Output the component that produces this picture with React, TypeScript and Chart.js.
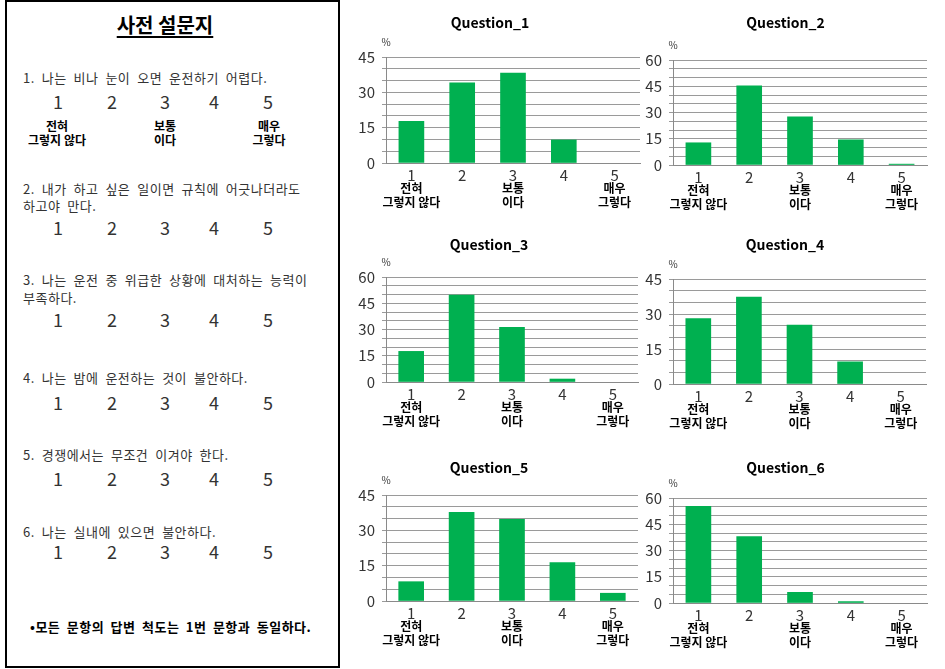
import React, { useEffect, useRef } from 'react';
import { Chart, registerables } from 'chart.js';

Chart.register(...registerables);

const FONT = '"Noto Sans CJK KR", "Noto Sans", sans-serif';

// ---------- data ----------
const CATEGORIES = ['1', '2', '3', '4', '5'];
const SCALE_LABELS: (string | string[])[] = [['전혀', '그렇지 않다'], '', ['보통', '이다'], '', ['매우', '그렇다']];
const TITLES = ['Question_1', 'Question_2', 'Question_3', 'Question_4', 'Question_5', 'Question_6'];
const Q1 = [17.7, 34.0, 38.2, 9.8, 0];
const Q2 = [12.7, 45.3, 27.5, 14.4, 0.5];
const Q3 = [17.5, 49.7, 31.2, 1.7, 0];
const Q4 = [28.0, 37.3, 25.3, 9.5, 0];
const Q5 = [8.2, 37.6, 34.7, 16.3, 3.3];
const Q6 = [55.3, 37.9, 6.1, 0.8, 0];
const GRID_45 = [0, 5, 10, 15, 20, 25, 30, 35, 40, 45];
const GRID_60 = [0, 5, 10, 15, 20, 25, 30, 35, 40, 45, 50, 55, 60];
const LABELED_TICKS = [0, 15, 30, 45, 60];

const SURVEY_TITLE = '사전 설문지';
const QUESTION_LINES = [
  ['1. 나는 비나 눈이 오면 운전하기 어렵다.'],
  ['2. 내가 하고 싶은 일이면 규칙에 어긋나더라도', '하고야 만다.'],
  ['3. 나는 운전 중 위급한 상황에 대처하는 능력이', '부족하다.'],
  ['4. 나는 밤에 운전하는 것이 불안하다.'],
  ['5. 경쟁에서는 무조건 이겨야 한다.'],
  ['6. 나는 실내에 있으면 불안하다.'],
];
const SCALE_WORDS = [['전혀', '그렇지 않다'], ['보통', '이다'], ['매우', '그렇다']];
const FOOTNOTE = '•모든 문항의 답변 척도는 1번 문항과 동일하다.';

// ---------- layout ----------
const Q_TEXT_Y = [[78], [189, 206], [280, 298], [378], [455], [532]];
const Q_NUM_Y = [101, 227, 319, 402, 478, 551];
const NUM_X = [58, 112, 165, 214, 268];
const SCALE_X = [57, 165, 269];

type Box = { left: number; top: number; w: number; h: number; plotLeft: number; plotRight: number; plotTop: number; plotBottom: number; titleY: number };

const BOXES: Box[] = [
  { left: 340, top: 0, w: 304, h: 222, plotLeft: 386, plotRight: 640, plotTop: 57, plotBottom: 163, titleY: 23 },
  { left: 644, top: 0, w: 301, h: 222, plotLeft: 673, plotRight: 927, plotTop: 60, plotBottom: 165, titleY: 23 },
  { left: 340, top: 222, w: 304, h: 224, plotLeft: 386, plotRight: 638, plotTop: 277, plotBottom: 382, titleY: 245 },
  { left: 644, top: 222, w: 301, h: 224, plotLeft: 673, plotRight: 926, plotTop: 279, plotBottom: 384, titleY: 245 },
  { left: 340, top: 446, w: 304, h: 223, plotLeft: 386, plotRight: 638, plotTop: 495, plotBottom: 601, titleY: 468 },
  { left: 644, top: 446, w: 301, h: 223, plotLeft: 673, plotRight: 927, plotTop: 498, plotBottom: 603, titleY: 468 },
];

const percentPlugin = {
  id: 'percentLabel',
  afterDraw(chart: any) {
    const { ctx, chartArea } = chart;
    ctx.save();
    ctx.font = `10px ${FONT}`;
    ctx.fillStyle = '#333';
    ctx.textAlign = 'center';
    ctx.textBaseline = 'middle';
    ctx.fillText('%', chartArea.left, chartArea.top - 15);
    ctx.restore();
  },
};

function BarChart({ title, values, grid, box }: { title: string; values: number[]; grid: number[]; box: Box }) {
  const ref = useRef<HTMLCanvasElement>(null);
  useEffect(() => {
    const titleLH = 16.8;
    const relTitle = box.titleY - box.top;
    const relPlotTop = box.plotTop - box.top;
    const relPlotBottom = box.plotBottom - box.top;
    const padTop = relTitle - titleLH / 2;
    const padBottom = relPlotTop - padTop - titleLH;
    const X1H = 18;
    const X2H = 34;
    const yWidth = box.plotLeft - box.left;
    const chart = new Chart(ref.current as HTMLCanvasElement, {
      type: 'bar',
      data: {
        labels: CATEGORIES,
        datasets: [
          {
            data: values,
            backgroundColor: (c: any) => (c.raw === 0 ? 'rgba(0,0,0,0)' : '#00B050'),
            barThickness: 25,
            xAxisID: 'x',
            yAxisID: 'y',
          },
        ],
      },
      options: {
        responsive: false,
        maintainAspectRatio: false,
        animation: false,
        layout: {
          padding: { left: 0, top: 0, right: box.left + box.w - box.plotRight, bottom: box.h - relPlotBottom - X1H - X2H },
        },
        plugins: {
          legend: { display: false },
          tooltip: { enabled: false },
          title: {
            display: true,
            text: title,
            color: '#000',
            font: { family: FONT, size: 14, weight: 'bold', lineHeight: 1.2 },
            padding: { top: padTop, bottom: padBottom },
          },
        },
        scales: {
          x: {
            type: 'category',
            position: 'bottom',
            offset: true,
            weight: 0,
            grid: { drawOnChartArea: false, drawTicks: false, color: 'rgba(0,0,0,0)' },
            border: { display: true, color: '#8a8a8a', width: 1 },
            ticks: { autoSkip: false, maxRotation: 0, padding: 3, color: '#333', font: { family: FONT, size: 15 } },
            afterFit: (s: any) => { s.height = X1H; },
          },
          x2: {
            type: 'category',
            position: 'bottom',
            labels: SCALE_LABELS as any,
            offset: true,
            weight: 1,
            grid: { display: false, drawTicks: false },
            border: { display: false },
            ticks: { autoSkip: false, maxRotation: 0, padding: 0, color: '#000', font: { family: FONT, size: 12, weight: 'bold', lineHeight: 1.17 } },
            afterFit: (s: any) => { s.height = X2H; },
          },
          y: {
            type: 'linear',
            position: 'left',
            min: 0,
            max: grid[grid.length - 1],
            afterBuildTicks: (s: any) => { s.ticks = grid.map((v) => ({ value: v })); },
            grid: { color: '#9a9a9a', lineWidth: 1, tickLength: 4, drawTicks: true },
            border: { display: true, color: '#8a8a8a', width: 1 },
            ticks: {
              autoSkip: false,
              padding: 7,
              color: '#333',
              font: { family: FONT, size: 15 },
              callback: (v: any) => (LABELED_TICKS.includes(Number(v)) ? String(v) : ''),
            },
            afterFit: (s: any) => { s.width = yWidth; },
          },
        },
      } as any,
      plugins: [percentPlugin],
    });
    return () => chart.destroy();
  }, []);
  return (
    <canvas
      ref={ref}
      width={box.w}
      height={box.h}
      style={{ position: 'absolute', left: box.left, top: box.top, width: box.w, height: box.h }}
    />
  );
}

function Text({ x, y, text, size, bold, center, color, lh, spacing, letter }: any) {
  const L = lh || Math.round(size * 1.25);
  return (
    <div
      style={{
        position: 'absolute',
        left: center ? x - 100 : x,
        top: y - L / 2,
        width: center ? 200 : undefined,
        textAlign: center ? 'center' : 'left',
        fontFamily: FONT,
        fontSize: size,
        fontWeight: bold ? 700 : 400,
        lineHeight: `${L}px`,
        color: color || '#000',
        whiteSpace: 'nowrap',
        wordSpacing: spacing || 0,
        letterSpacing: letter || 0,
      }}
    >
      {text}
    </div>
  );
}

export default function App() {
  const series = [Q1, Q2, Q3, Q4, Q5, Q6];
  const grids = [GRID_45, GRID_60, GRID_60, GRID_45, GRID_45, GRID_60];
  return (
    <div style={{ position: 'absolute', left: 0, top: 0, width: 945, height: 669, background: '#fff', overflow: 'hidden' }}>
      <div
        style={{
          position: 'absolute',
          left: 5,
          top: 0,
          width: 335,
          height: 668,
          border: '2px solid #000',
          boxSizing: 'border-box',
        }}
      />
      <div
        style={{
          position: 'absolute',
          left: 65,
          top: 11,
          width: 200,
          textAlign: 'center',
          fontFamily: FONT,
          fontSize: 20,
          fontWeight: 700,
          lineHeight: '27px',
          textDecoration: 'underline',
          textUnderlineOffset: 3,
        }}
      >
        {SURVEY_TITLE}
      </div>
      {QUESTION_LINES.map((lines, qi) =>
        lines.map((t, li) => (
          <Text key={`q${qi}-${li}`} x={23} y={Q_TEXT_Y[qi][li]} text={t} size={13} color="#333" spacing={3.5} letter={0.5} />
        ))
      )}
      {Q_NUM_Y.map((y, qi) =>
        CATEGORIES.map((c, ci) => (
          <Text key={`n${qi}-${ci}`} x={NUM_X[ci]} y={y} text={c} size={18} center color="#333" />
        ))
      )}
      {SCALE_WORDS.map((w, i) =>
        w.map((t, li) => <Text key={`s${i}-${li}`} x={SCALE_X[i]} y={126 + li * 14} text={t} size={12} bold center lh={14} />)
      )}
      <Text x={30} y={627} text={FOOTNOTE} size={13} bold spacing={3} letter={0.5} />
      {series.map((v, i) => (
        <BarChart key={i} title={TITLES[i]} values={v} grid={grids[i]} box={BOXES[i]} />
      ))}
    </div>
  );
}
